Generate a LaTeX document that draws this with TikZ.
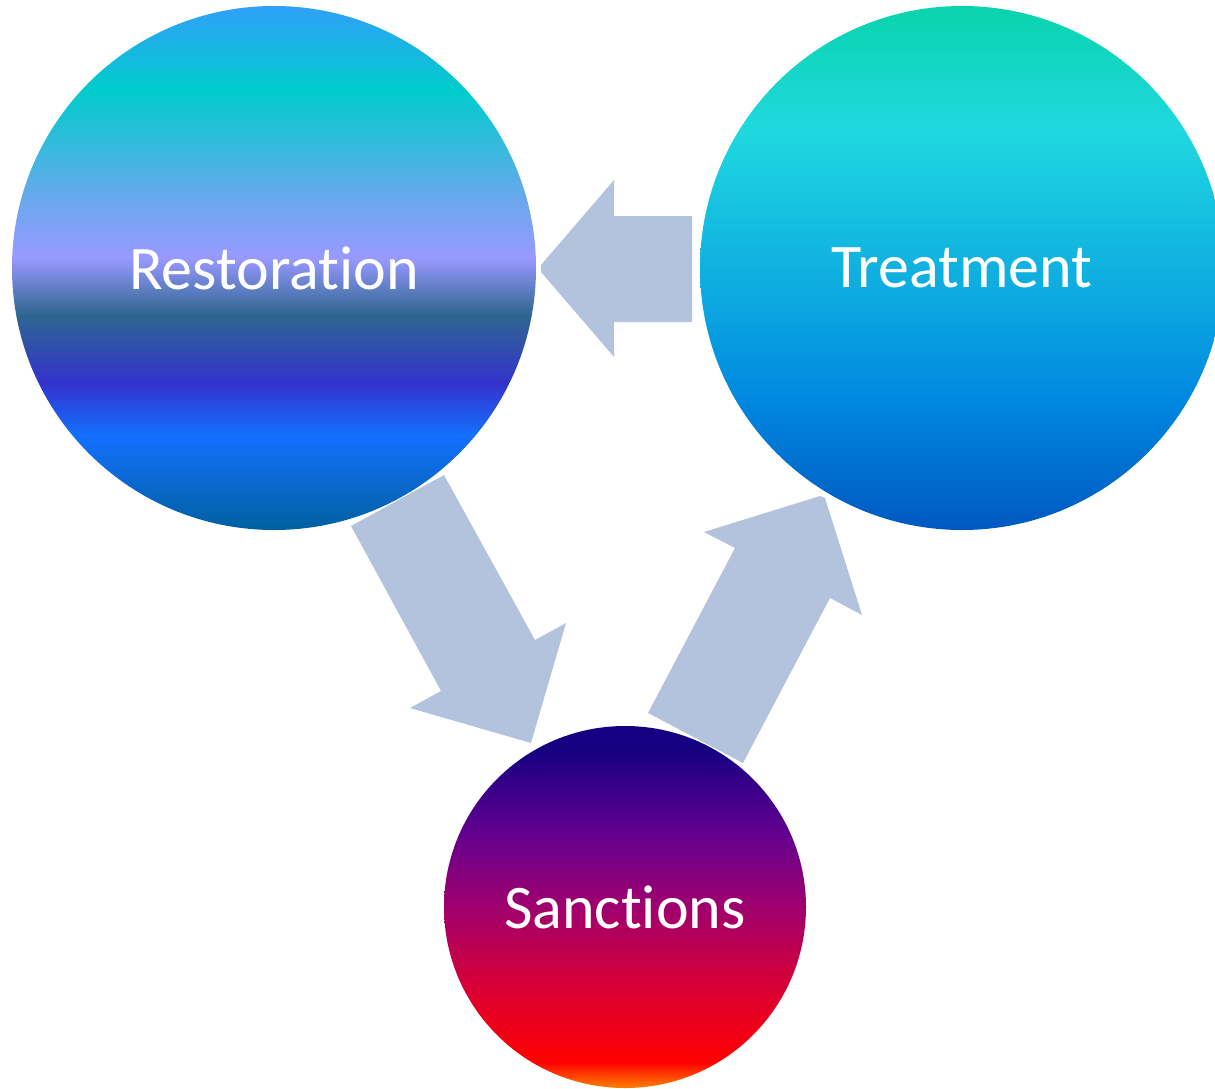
\documentclass[tikz,border=0pt]{standalone}
\usepackage{fontspec}
\setmainfont{Carlito}[Ligatures={NoCommon}]
\definecolor{arrowfill}{HTML}{B3C3DD}
\definecolor{rA}{HTML}{0060A0}
\definecolor{rB}{HTML}{1470FF}
\definecolor{rC}{HTML}{3333CC}
\definecolor{rD}{HTML}{2E6690}
\definecolor{rE}{HTML}{9999FF}
\definecolor{rF}{HTML}{6AA8EE}
\definecolor{rG}{HTML}{00CCCC}
\definecolor{rH}{HTML}{30A0F8}
\definecolor{tA}{HTML}{0058C0}
\definecolor{tB}{HTML}{0088E0}
\definecolor{tC}{HTML}{0CA8E0}
\definecolor{tD}{HTML}{20D8E0}
\definecolor{tE}{HTML}{08D4AC}
\definecolor{sA}{HTML}{FF8000}
\definecolor{sB}{HTML}{FF0000}
\definecolor{sC}{HTML}{E0002C}
\definecolor{sD}{HTML}{A0006E}
\definecolor{sE}{HTML}{600090}
\definecolor{sF}{HTML}{140080}
\pgfdeclareverticalshading{restshade}{100bp}{color(0bp)=(rA); color(25bp)=(rA); color(34.06bp)=(rB); color(39.03bp)=(rC); color(45.52bp)=(rD); color(50.95bp)=(rE); color(56.49bp)=(rF); color(66.98bp)=(rG); color(75bp)=(rH); color(100bp)=(rH)}
\pgfdeclareverticalshading{treatshade}{100bp}{color(0bp)=(tA); color(25bp)=(tA); color(37.4bp)=(tB); color(46.95bp)=(tC); color(63.17bp)=(tD); color(75bp)=(tE); color(100bp)=(tE)}
\pgfdeclareverticalshading{sancshade}{100bp}{color(0bp)=(sA); color(25bp)=(sA); color(28.59bp)=(sB); color(37.15bp)=(sC); color(50bp)=(sD); color(60.64bp)=(sE); color(72bp)=(sF); color(100bp)=(sF)}
\begin{document}
\begin{tikzpicture}[x=1pt,y=-1pt,
  bubble/.style={circle, inner sep=0pt, text=white, font=\fontsize{62}{74}\selectfont},
  blockarrow/.style={fill=arrowfill, draw=none}]
\useasboundingbox (0,0) rectangle (1215,1089);
\fill[white] (0,0) rectangle (1215,1089);
\node[bubble, minimum size=524pt, shading=restshade] (rest) at (274,268) {Restoration};
\node[bubble, minimum size=524pt, shading=treatshade] (treat) at (962,268) {Treatment};
\node[bubble, minimum size=362pt, shading=sancshade] (sanc) at (625,907) {Sanctions};
% Treatment -> Restoration
\fill[blockarrow] (692,216) -- (614,216) -- (614,180) -- (541,265) -- (541,272) -- (614,357) -- (614,322) -- (692,322) -- cycle;
% Restoration -> Sanctions
\fill[blockarrow] (351,526) -- (444,475) -- (535,640) -- (566,623) -- (531,743) -- (410,708) -- (441,691) -- cycle;
% Sanctions -> Treatment
\fill[blockarrow] (648,713) -- (743,763) -- (830,598) -- (862,615) -- (825,498) -- (820,496) -- (704,532) -- (735,548) -- cycle;
\end{tikzpicture}
\end{document}
